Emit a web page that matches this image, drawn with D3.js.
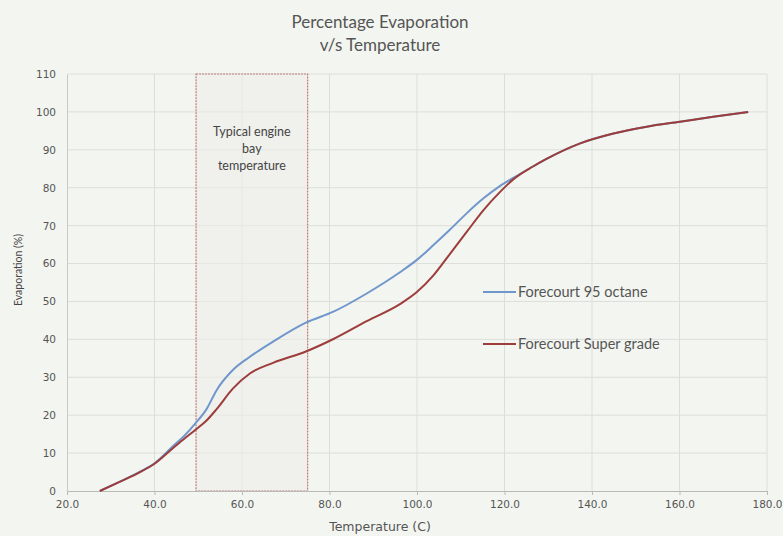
<!DOCTYPE html>
<html>
<head>
<meta charset="utf-8">
<script src="https://cdn.jsdelivr.net/npm/d3@7"></script>
<style>
    body {margin: 0; background: #f3f5f0;}
    svg {display: block;}
</style>
</head>
<body>
<svg id="chart" width="783" height="536"></svg>
<script>
// temperatures (C), shared by both series
const temps = [27.5, 32, 36.7, 40, 44.2, 47, 49.3, 51.9, 54.2, 57.9, 61.8, 67.1, 74.6, 80.9, 88.5, 96.1,
    99.9, 103.7, 107.5, 111.4, 115.2, 119, 122, 126.5, 129.6, 137.3, 144.9, 152.5, 160.1, 167.7, 175.7]
const octane95 = [0, 2.4, 5.1, 7.3, 11.8, 14.8, 17.8, 21.6, 26.6, 31.9, 35.4, 39.4, 44.4, 47.3, 52.1, 57.7,
    60.9, 64.8, 68.9, 73.3, 77.2, 80.5, 82.6, 85.6, 87.6, 91.7, 94.3, 96.1, 97.4, 98.7, 100]
const superGrade = [0, 2.4, 5, 7.2, 11.3, 14, 16.1, 18.6, 21.6, 27, 31, 33.8, 36.8, 40.1, 44.8, 49.3,
    52.4, 56.8, 62.5, 68.4, 74.1, 78.9, 82.2, 85.6, 87.6, 91.7, 94.3, 96.1, 97.4, 98.7, 100]
const seriesNames = ["Forecourt 95 octane", "Forecourt Super grade"]
const xTicks = [20, 40, 60, 80, 100, 120, 140, 160, 180]
const yTicks = [0, 10, 20, 30, 40, 50, 60, 70, 80, 90, 100, 110]
const bayRange = [49.5, 75]
const bayLabel = ["Typical engine", "bay", "temperature"]

const margin = {top: 74, right: 16, bottom: 45, left: 67},
    width = 783 - margin.left - margin.right,
    height = 536 - margin.top - margin.bottom

const svg = d3.select("#chart")
const g = svg.append("g")
    .attr("transform", "translate(" + margin.left + "," + margin.top + ")")

const x = d3.scaleLinear().domain([20, 180]).range([0, width])
const y = d3.scaleLinear().domain([0, 110]).range([height, 0])

// gridlines
g.append("g")
    .selectAll("line")
    .data(yTicks.slice(1))
    .enter().append("line")
    .attr("x1", 0).attr("x2", width)
    .attr("y1", d => y(d)).attr("y2", d => y(d))
    .style("stroke", "#dcdfd9").style("stroke-width", 1)
g.append("g")
    .selectAll("line")
    .data(xTicks.slice(1))
    .enter().append("line")
    .attr("x1", d => x(d)).attr("x2", d => x(d))
    .attr("y1", 0).attr("y2", height)
    .style("stroke", "#dcdfd9").style("stroke-width", 1)

// engine bay box
g.append("rect")
    .attr("x", x(bayRange[0]))
    .attr("y", y(110))
    .attr("width", x(bayRange[1]) - x(bayRange[0]))
    .attr("height", y(0) - y(110))
    .style("fill", "#eeeee9")
    .style("fill-opacity", 0.5)
    .style("stroke", "#c07a74")
    .style("stroke-width", 1.2)
    .style("stroke-dasharray", "2,1")

g.append("text")
    .attr("x", (x(bayRange[0]) + x(bayRange[1])) / 2)
    .attr("y", 62)
    .style("text-anchor", "middle")
    .style("font-family", "Lato, 'Open Sans', sans-serif")
    .style("font-size", "12.5px")
    .style("fill", "#444")
    .selectAll("tspan")
    .data(bayLabel)
    .enter().append("tspan")
    .attr("x", (x(bayRange[0]) + x(bayRange[1])) / 2)
    .attr("dy", (d, i) => i === 0 ? 0 : "1.35em")
    .text(d => d)

// axes
const xAxis = g.append("g")
    .attr("transform", "translate(0," + height + ")")
    .call(d3.axisBottom(x).tickValues(xTicks).tickFormat(d3.format(".1f")).tickSize(4))
xAxis.select(".domain").style("stroke", "#b8bbb5")
xAxis.selectAll(".tick line").style("stroke", "#b8bbb5")
xAxis.selectAll("text")
    .attr("y", 10)
    .style("font-family", "'DejaVu Sans', sans-serif")
    .style("font-size", "10.5px")
    .style("fill", "#555")

const yAxis = g.append("g")
    .call(d3.axisLeft(y).tickValues(yTicks).tickSize(0))
yAxis.select(".domain").style("stroke", "#c8cbc5")
yAxis.selectAll("text")
    .attr("x", -11)
    .style("font-family", "'DejaVu Sans', sans-serif")
    .style("font-size", "10.5px")
    .style("fill", "#555")

// lines
const line = d3.line()
    .x(d => x(d[0]))
    .y(d => y(d[1]))
    .curve(d3.curveMonotoneX)

const colors = ["#6f97cc", "#9c3d3b"]
const series = [octane95, superGrade]
series.forEach((vals, i) => {
    g.append("path")
        .datum(temps.map((t, j) => [t, vals[j]]))
        .attr("d", line)
        .style("fill", "none")
        .style("stroke", colors[i])
        .style("stroke-width", 2)
})

// legend
const legend = g.append("g")
    .attr("transform", "translate(" + (483 - margin.left) + "," + (292 - margin.top) + ")")
seriesNames.forEach((name, i) => {
    const row = legend.append("g").attr("transform", "translate(0," + (i * 52) + ")")
    row.append("line")
        .attr("x1", 0).attr("x2", 33)
        .style("stroke", colors[i]).style("stroke-width", 2)
    row.append("text")
        .attr("x", 35).attr("dy", "0.35em")
        .style("font-family", "Lato, 'Open Sans', sans-serif")
        .style("font-size", "14.5px")
        .style("fill", "#555")
        .text(name)
})

// titles
svg.append("text")
    .attr("x", 380).attr("y", 28)
    .style("text-anchor", "middle")
    .style("font-family", "Lato, 'Open Sans', sans-serif")
    .style("font-size", "17px")
    .style("fill", "#555")
    .text("Percentage Evaporation")
svg.append("text")
    .attr("x", 380).attr("y", 51)
    .style("text-anchor", "middle")
    .style("font-family", "Lato, 'Open Sans', sans-serif")
    .style("font-size", "17px")
    .style("fill", "#555")
    .text("v/s Temperature")

svg.append("text")
    .attr("x", 380).attr("y", 531)
    .style("text-anchor", "middle")
    .style("font-family", "'DejaVu Sans', sans-serif")
    .style("font-size", "12.5px")
    .style("fill", "#555")
    .text("Temperature (C)")

svg.append("text")
    .attr("transform", "rotate(-90)")
    .attr("x", -270).attr("y", 22)
    .style("text-anchor", "middle")
    .style("font-family", "Lato, 'Open Sans', sans-serif")
    .style("font-size", "10.5px")
    .style("fill", "#444")
    .text("Evaporation (%)")
</script>
</body>
</html>
